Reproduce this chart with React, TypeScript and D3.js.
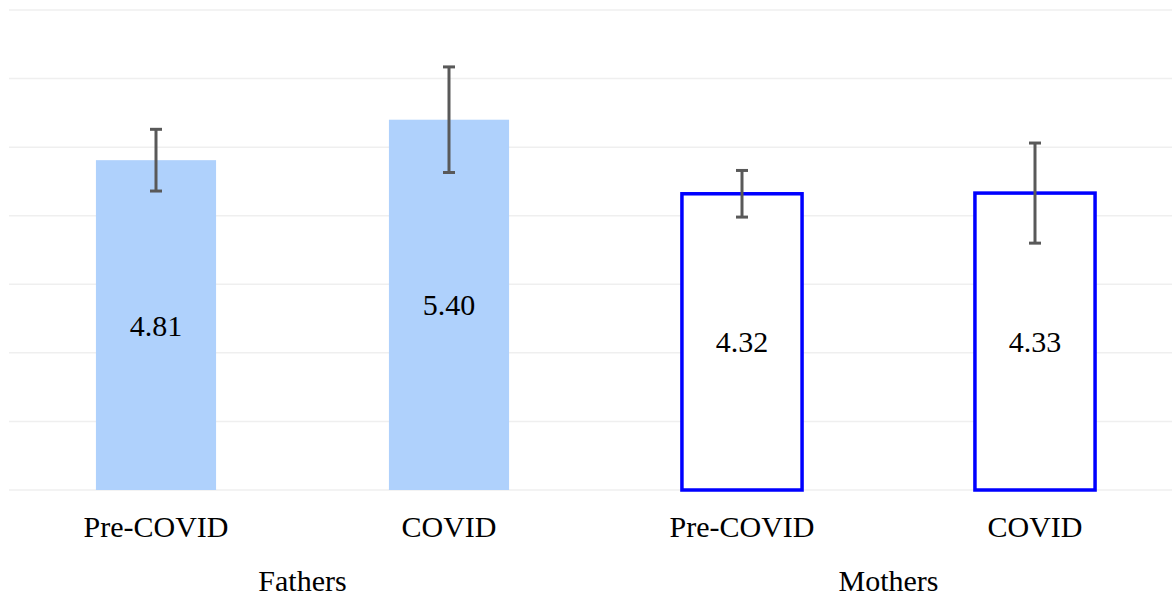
import React, { useEffect, useRef } from "react";
import * as d3 from "d3";

// data
const groups = ["Fathers", "Fathers", "Mothers", "Mothers"];
const periods = ["Pre-COVID", "COVID", "Pre-COVID", "COVID"];
const means = [4.81, 5.4, 4.32, 4.33];
const errors = [0.45, 0.77, 0.34, 0.73];
const gridTicks = [0, 1, 2, 3, 4, 5, 6, 7];

const App = () => {
  const ref = useRef<SVGSVGElement | null>(null);

  useEffect(() => {
    const width = 1172;
    const svg = d3.select(ref.current);
    svg.selectAll("*").remove();

    const keys = means.map((_, i) => String(i));
    const x = d3.scaleBand()
      .domain(keys)
      .range([9.5, 1181.5])
      .paddingInner(0.59)
      .paddingOuter(0.295);

    const y = d3.scaleLinear().domain([0, 7]).range([490, 10]);

    const font = "'Liberation Serif', 'Times New Roman', serif";

    // gridlines
    svg.append("g")
      .selectAll("line")
      .data(gridTicks)
      .enter().append("line")
      .attr("x1", 9)
      .attr("x2", width)
      .attr("y1", d => y(d))
      .attr("y2", d => y(d))
      .attr("stroke", "#efefef")
      .attr("stroke-width", 1.5);

    const bw = x.bandwidth();

    // bars
    svg.append("g")
      .selectAll("rect")
      .data(means)
      .enter().append("rect")
      .attr("x", (d, i) => x(String(i))!)
      .attr("y", d => y(d))
      .attr("width", bw)
      .attr("height", d => y(0) - y(d))
      .attr("fill", (d, i) => groups[i] === "Fathers" ? "#afd1fc" : "#ffffff")
      .attr("stroke", (d, i) => groups[i] === "Fathers" ? "none" : "#0000ff")
      .attr("stroke-width", 3.5);

    // value labels
    svg.append("g")
      .selectAll("text")
      .data(means)
      .enter().append("text")
      .attr("x", (d, i) => x(String(i))! + bw / 2)
      .attr("y", d => (y(d) + y(0)) / 2)
      .attr("dy", "0.35em")
      .attr("text-anchor", "middle")
      .style("font-family", font)
      .style("font-size", "30px")
      .attr("fill", "#000")
      .text(d => d.toFixed(2));

    // error bars
    const eb = svg.append("g")
      .attr("stroke", "#595959")
      .attr("stroke-width", 3);
    means.forEach((m, i) => {
      const cx = x(String(i))! + bw / 2;
      eb.append("line")
        .attr("x1", cx).attr("x2", cx)
        .attr("y1", y(m + errors[i])).attr("y2", y(m - errors[i]));
      [m + errors[i], m - errors[i]].forEach(v => {
        eb.append("line")
          .attr("x1", cx - 6).attr("x2", cx + 6)
          .attr("y1", y(v)).attr("y2", y(v));
      });
    });

    // category labels
    svg.append("g")
      .selectAll("text")
      .data(periods)
      .enter().append("text")
      .attr("x", (d, i) => x(String(i))! + bw / 2)
      .attr("y", 537)
      .attr("text-anchor", "middle")
      .style("font-family", font)
      .style("font-size", "30px")
      .attr("fill", "#000")
      .text(d => d);

    // group labels
    const groupNames = Array.from(new Set(groups));
    svg.append("g")
      .selectAll("text")
      .data(groupNames)
      .enter().append("text")
      .attr("x", g => d3.mean(groups.map((gg, i) => gg === g ? x(String(i))! + bw / 2 : NaN).filter(v => !isNaN(v)))!)
      .attr("y", 591)
      .attr("text-anchor", "middle")
      .style("font-family", font)
      .style("font-size", "30px")
      .attr("fill", "#000")
      .text(d => d);
  }, []);

  return (
    <svg
      ref={ref}
      width={1172}
      height={596}
      style={{ position: "absolute", left: 0, top: 0, background: "#fff" }}
    />
  );
};

export default App;
